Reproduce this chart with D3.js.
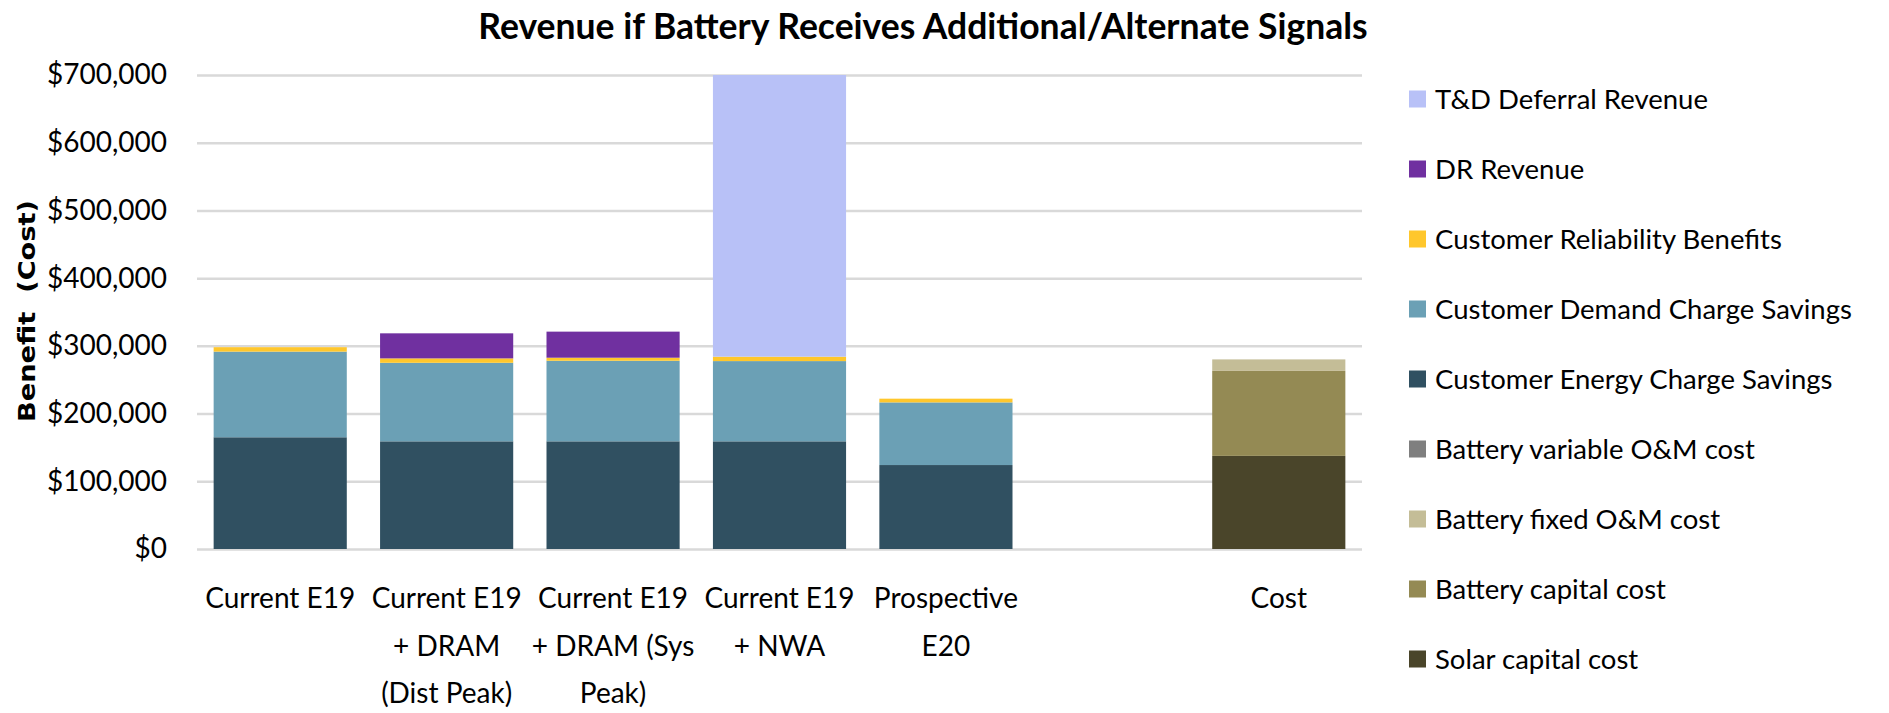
<!DOCTYPE html>
<html>
<head>
<meta charset="utf-8">
<script src="https://cdn.jsdelivr.net/npm/d3@7"></script>
<style>
  body { margin: 0; background: #fff; }
  svg text { font-family: Lato, "Open Sans", sans-serif; fill: #000; }
</style>
</head>
<body>
<div id="chart"></div>
<script>
var W = 1889, H = 713;

// categories (blank slot between E20 and Cost)
var categories = ["Current E19", "Current E19 + DRAM (Dist Peak)", "Current E19 + DRAM (Sys Peak)", "Current E19 + NWA", "Prospective E20", " ", "Cost"];
var categoryLines = [["Current E19"], ["Current E19", "+ DRAM", "(Dist Peak)"], ["Current E19", "+ DRAM (Sys", "Peak)"], ["Current E19", "+ NWA"], ["Prospective", "E20"], [], ["Cost"]];

// series values, one per category
var solarCapital      = [0, 0, 0, 0, 0, 0, 137500];
var batteryCapital    = [0, 0, 0, 0, 0, 0, 125500];
var batteryFixedOM    = [0, 0, 0, 0, 0, 0, 17000];
var batteryVariableOM = [0, 0, 0, 0, 0, 0, 0];
var energySavings     = [165000, 159000, 159000, 159000, 124000, 0, 0];
var demandSavings     = [126500, 116000, 119000, 118500, 92500, 0, 0];
var reliability       = [6500, 6500, 4500, 6500, 5500, 0, 0];
var drRevenue         = [0, 37000, 38500, 0, 0, 0, 0];
var tdDeferral        = [0, 0, 0, 416000, 0, 0, 0];

var yTicks = [0, 100000, 200000, 300000, 400000, 500000, 600000, 700000];

// stacking order bottom -> top
var seriesNames = ["Solar capital cost", "Battery capital cost", "Battery fixed O&M cost", "Battery variable O&M cost",
                   "Customer Energy Charge Savings", "Customer Demand Charge Savings", "Customer Reliability Benefits",
                   "DR Revenue", "T&D Deferral Revenue"];
var seriesValues = [solarCapital, batteryCapital, batteryFixedOM, batteryVariableOM,
                    energySavings, demandSavings, reliability, drRevenue, tdDeferral];
var colorArray = ["#4A452A", "#948A54", "#C4BD97", "#7F7F7F",
                  "#305061", "#6BA0B5", "#FFC72C", "#7030A0", "#B8C1F7"];
// legend order top -> bottom
var legendNames = ["T&D Deferral Revenue", "DR Revenue", "Customer Reliability Benefits", "Customer Demand Charge Savings",
                   "Customer Energy Charge Savings", "Battery variable O&M cost", "Battery fixed O&M cost",
                   "Battery capital cost", "Solar capital cost"];

var table = categories.map(function(c, i){
	var row = {category: c};
	seriesNames.forEach(function(s, k){ row[s] = seriesValues[k][i]; });
	return row;
});

var margin = {left: 197, right: 1362, top: 75, bottom: 549};

var svg = d3.select("#chart").append("svg")
	.attr("width", W)
	.attr("height", H);

var x = d3.scaleBand()
	.domain(categories)
	.range([margin.left, margin.right])
	.paddingInner(0.2)
	.paddingOuter(0.1);

var y = d3.scaleLinear()
	.domain([0, 700000])
	.range([margin.bottom, margin.top]);

var color = d3.scaleOrdinal().domain(seriesNames).range(colorArray);

// gridlines + y axis
var yAxis = svg.append("g")
	.attr("transform", "translate(" + margin.left + ",0)")
	.call(d3.axisLeft(y)
		.tickValues(yTicks)
		.tickFormat(d3.format("$,.0f"))
		.tickSize(-(margin.right - margin.left))
		.tickPadding(30));
yAxis.select(".domain").remove();
yAxis.selectAll(".tick line")
	.attr("stroke", "#D9D9D9")
	.attr("stroke-width", 2.5);
yAxis.selectAll(".tick text")
	.attr("font-size", 28)
	.attr("font-family", "Lato, sans-serif")
	.attr("fill", "#000");

// bars
var stacked = d3.stack().keys(seriesNames)(table);
svg.append("g").selectAll("g")
	.data(stacked)
	.enter().append("g")
		.attr("fill", function(d){ return color(d.key); })
	.selectAll("rect")
	.data(function(d){ return d; })
	.enter().append("rect")
		.attr("x", function(d){ return x(d.data.category); })
		.attr("width", x.bandwidth())
		.attr("y", function(d){ return y(d[1]); })
		.attr("height", function(d){ return y(d[0]) - y(d[1]); });

// category labels
categories.forEach(function(c, i){
	var t = svg.append("text")
		.attr("text-anchor", "middle")
		.attr("font-size", 28)
		.attr("x", x(c) + x.bandwidth() / 2)
		.attr("y", 608);
	categoryLines[i].forEach(function(line, k){
		t.append("tspan")
			.attr("x", x(c) + x.bandwidth() / 2)
			.attr("dy", k == 0 ? 0 : 47.5)
			.text(line);
	});
});

// title
svg.append("text")
	.attr("x", 923)
	.attr("y", 39)
	.attr("text-anchor", "middle")
	.attr("font-size", 35.5)
	.attr("font-weight", "bold")
	.text("Revenue if Battery Receives Additional/Alternate Signals");

// y axis title
svg.append("text")
	.attr("transform", "translate(35,311) rotate(-90)")
	.attr("text-anchor", "middle")
	.attr("font-size", 23)
	.attr("font-weight", "bold")
	.attr("textLength", 222)
	.attr("lengthAdjust", "spacingAndGlyphs")
	.style("font-family", "'DejaVu Sans', sans-serif")
	.style("white-space", "pre")
	.text("Benefit  (Cost)");

// legend
var legend = svg.append("g").selectAll("g")
	.data(legendNames)
	.enter().append("g")
		.attr("transform", function(d, i){ return "translate(1409," + (99 + i * 70) + ")"; });
legend.append("rect")
	.attr("y", -8.5)
	.attr("width", 17)
	.attr("height", 17)
	.attr("fill", function(d){ return color(d); });
legend.append("text")
	.attr("x", 26)
	.attr("dy", "0.35em")
	.attr("font-size", 27.5)
	.text(function(d){ return d; });
</script>
</body>
</html>
